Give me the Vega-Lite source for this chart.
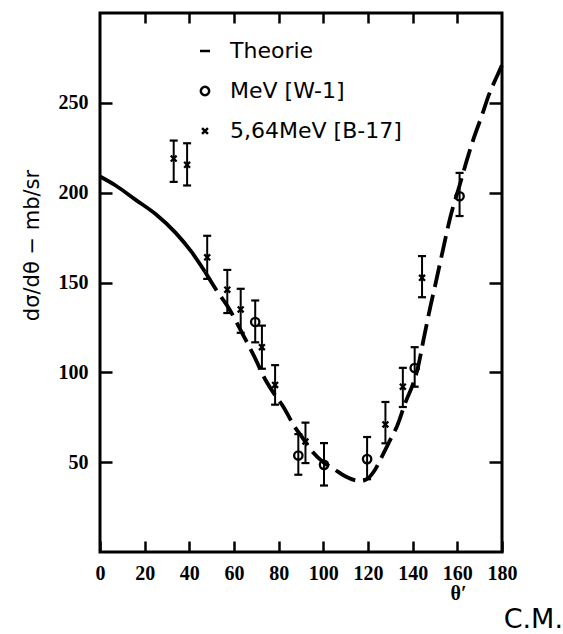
{
  "$schema": "https://vega.github.io/schema/vega-lite/v6.json",
  "width": 402,
  "height": 539,
  "autosize": {"type": "none"},
  "padding": {"left": 100, "top": 13, "right": 61, "bottom": 82},
  "background": "white",
  "config": {
    "view": {"stroke": "black", "strokeWidth": 3},
    "axis": {"grid": false, "domain": false, "tickColor": "black", "tickWidth": 2.5, "labelColor": "black", "labelFont": "Liberation Serif", "labelFontWeight": "bold", "labelFontSize": 20, "labelFlush": false, "labelOverlap": false}
  },
  "title": {"text": "C.M.", "orient": "bottom", "anchor": "end", "font": "DejaVu Sans", "fontSize": 27, "fontWeight": "normal", "color": "black", "dx": 46, "dy": 13, "offset": 4, "baseline": "middle"},
  "datasets": {
    "curve": [
      {"theta": 0, "sigma": 209}, {"theta": 7, "sigma": 204}, {"theta": 16, "sigma": 196}, {"theta": 25, "sigma": 188},
      {"theta": 34, "sigma": 177.5}, {"theta": 41, "sigma": 167}, {"theta": 47, "sigma": 156}, {"theta": 52, "sigma": 146},
      {"theta": 58, "sigma": 135}, {"theta": 64, "sigma": 121}, {"theta": 69, "sigma": 109}, {"theta": 74, "sigma": 96},
      {"theta": 78, "sigma": 88}, {"theta": 82, "sigma": 81}, {"theta": 87, "sigma": 70}, {"theta": 91, "sigma": 63},
      {"theta": 95, "sigma": 56}, {"theta": 100, "sigma": 50}, {"theta": 105, "sigma": 46}, {"theta": 110, "sigma": 42},
      {"theta": 114, "sigma": 40}, {"theta": 117, "sigma": 39.5}, {"theta": 120, "sigma": 41}, {"theta": 123, "sigma": 45.5},
      {"theta": 127, "sigma": 55}, {"theta": 130, "sigma": 62.5}, {"theta": 133, "sigma": 70}, {"theta": 137, "sigma": 84},
      {"theta": 140, "sigma": 93}, {"theta": 142, "sigma": 101}, {"theta": 145, "sigma": 119}, {"theta": 148, "sigma": 137},
      {"theta": 150, "sigma": 148}, {"theta": 153, "sigma": 165}, {"theta": 157, "sigma": 187}, {"theta": 161, "sigma": 204},
      {"theta": 164, "sigma": 217}, {"theta": 167, "sigma": 229}, {"theta": 171, "sigma": 243}, {"theta": 174, "sigma": 254},
      {"theta": 178, "sigma": 265.5}, {"theta": 180, "sigma": 271}
    ],
    "obs": [
      {"theta": 33, "sigma": 219, "lo": 206, "hi": 229, "series": "5,64MeV [B-17]"},
      {"theta": 39, "sigma": 215.5, "lo": 204, "hi": 227.5, "series": "5,64MeV [B-17]"},
      {"theta": 48, "sigma": 164, "lo": 152, "hi": 176, "series": "5,64MeV [B-17]"},
      {"theta": 57, "sigma": 146, "lo": 133, "hi": 157, "series": "5,64MeV [B-17]"},
      {"theta": 63, "sigma": 135, "lo": 122, "hi": 146.5, "series": "5,64MeV [B-17]"},
      {"theta": 72.5, "sigma": 114, "lo": 102, "hi": 126, "series": "5,64MeV [B-17]"},
      {"theta": 78.4, "sigma": 93, "lo": 82, "hi": 104, "series": "5,64MeV [B-17]"},
      {"theta": 92, "sigma": 61.5, "lo": 49.5, "hi": 72, "series": "5,64MeV [B-17]"},
      {"theta": 127.8, "sigma": 71, "lo": 60.5, "hi": 83.5, "series": "5,64MeV [B-17]"},
      {"theta": 135.6, "sigma": 92, "lo": 80.7, "hi": 102.5, "series": "5,64MeV [B-17]"},
      {"theta": 144.2, "sigma": 152.6, "lo": 141.8, "hi": 164.7, "series": "5,64MeV [B-17]"},
      {"theta": 69.5, "sigma": 128, "lo": 116.7, "hi": 140, "series": "MeV  [W-1]"},
      {"theta": 88.8, "sigma": 53.7, "lo": 43, "hi": 65.6, "series": "MeV  [W-1]"},
      {"theta": 100.3, "sigma": 48.5, "lo": 37, "hi": 60.6, "series": "MeV  [W-1]"},
      {"theta": 119.6, "sigma": 51.7, "lo": 40.5, "hi": 64, "series": "MeV  [W-1]"},
      {"theta": 140.9, "sigma": 102.4, "lo": 92, "hi": 114, "series": "MeV  [W-1]"},
      {"theta": 161, "sigma": 198, "lo": 187, "hi": 211, "series": "MeV  [W-1]"}
    ]
  },
  "layer": [
    {
      "data": {"name": "curve"},
      "transform": [{"filter": "datum.theta <= 47"}],
      "mark": {"type": "line", "color": "black", "strokeWidth": 3.8, "interpolate": "monotone"},
      "encoding": {
        "x": {"field": "theta", "type": "quantitative", "scale": {"domain": [0, 180], "nice": false},
          "axis": {"orient": "bottom", "values": [0, 20, 40, 60, 80, 100, 120, 140, 160, 180], "tickSize": -11, "labelPadding": 22,
            "title": "θ′", "titleFont": "Liberation Serif", "titleFontWeight": "bold", "titleFontSize": 20, "titleColor": "black",
            "titleX": 358, "titleY": 41, "titleAlign": "center", "titleBaseline": "middle"}},
        "y": {"field": "sigma", "type": "quantitative", "scale": {"domain": [0, 300], "nice": false},
          "axis": {"orient": "left", "values": [50, 100, 150, 200, 250], "tickSize": -12, "labelPadding": 24,
            "title": "dσ/dθ − mb/sr", "titleFont": "DejaVu Sans", "titleFontWeight": "normal", "titleFontSize": 21, "titleColor": "black",
            "titleX": -58, "titleY": 232, "titleAngle": 270, "titleBaseline": "bottom", "titleAlign": "center"}}
      }
    },
    {
      "data": {"name": "curve"},
      "transform": [{"filter": "datum.theta >= 47"}],
      "mark": {"type": "line", "color": "black", "strokeWidth": 3.8, "interpolate": "monotone", "strokeDash": [22, 8]},
      "encoding": {
        "x": {"field": "theta", "type": "quantitative",
          "axis": {"orient": "top", "values": [20, 40, 60, 80, 100, 120, 140, 160], "tickSize": -10, "labels": false, "title": null}},
        "y": {"field": "sigma", "type": "quantitative",
          "axis": {"orient": "right", "values": [50, 100, 150, 200, 250], "tickSize": -13, "labels": false, "title": null}}
      }
    },
    {
      "data": {"name": "obs"},
      "mark": {"type": "rule", "color": "black", "strokeWidth": 2, "opacity": 1},
      "encoding": {
        "x": {"field": "theta", "type": "quantitative", "axis": null},
        "y": {"field": "lo", "type": "quantitative", "axis": null},
        "y2": {"field": "hi"}
      }
    },
    {
      "data": {"name": "obs"},
      "mark": {"type": "tick", "orient": "horizontal", "color": "black", "size": 8, "thickness": 2.2, "opacity": 1},
      "encoding": {
        "x": {"field": "theta", "type": "quantitative", "axis": null},
        "y": {"field": "lo", "type": "quantitative", "axis": null}
      }
    },
    {
      "data": {"name": "obs"},
      "mark": {"type": "tick", "orient": "horizontal", "color": "black", "size": 8, "thickness": 2.2, "opacity": 1},
      "encoding": {
        "x": {"field": "theta", "type": "quantitative", "axis": null},
        "y": {"field": "hi", "type": "quantitative", "axis": null}
      }
    },
    {
      "data": {"name": "obs"},
      "mark": {"type": "point", "filled": false, "color": "black", "strokeWidth": 2.3, "size": 70, "opacity": 1},
      "encoding": {
        "x": {"field": "theta", "type": "quantitative", "axis": null},
        "y": {"field": "sigma", "type": "quantitative", "axis": null},
        "shape": {"field": "series", "type": "nominal",
          "scale": {"domain": ["Theorie", "MeV  [W-1]", "5,64MeV [B-17]"], "range": ["M-1.2,0L1.2,0", "circle", "M-0.7,-0.7L0.7,0.7M0.7,-0.7L-0.7,0.7"]},
          "legend": {"title": null, "orient": "none", "legendX": 94, "legendY": 27, "padding": 0,
            "labelFont": "DejaVu Sans", "labelFontSize": 22, "labelColor": "black", "labelOffset": 14, "labelLimit": 0,
            "symbolStrokeColor": "black", "symbolStrokeWidth": 2.5, "symbolSize": 70, "rowPadding": 18}}
      }
    }
  ],
  "resolve": {"axis": {"x": "independent", "y": "independent"}}
}
